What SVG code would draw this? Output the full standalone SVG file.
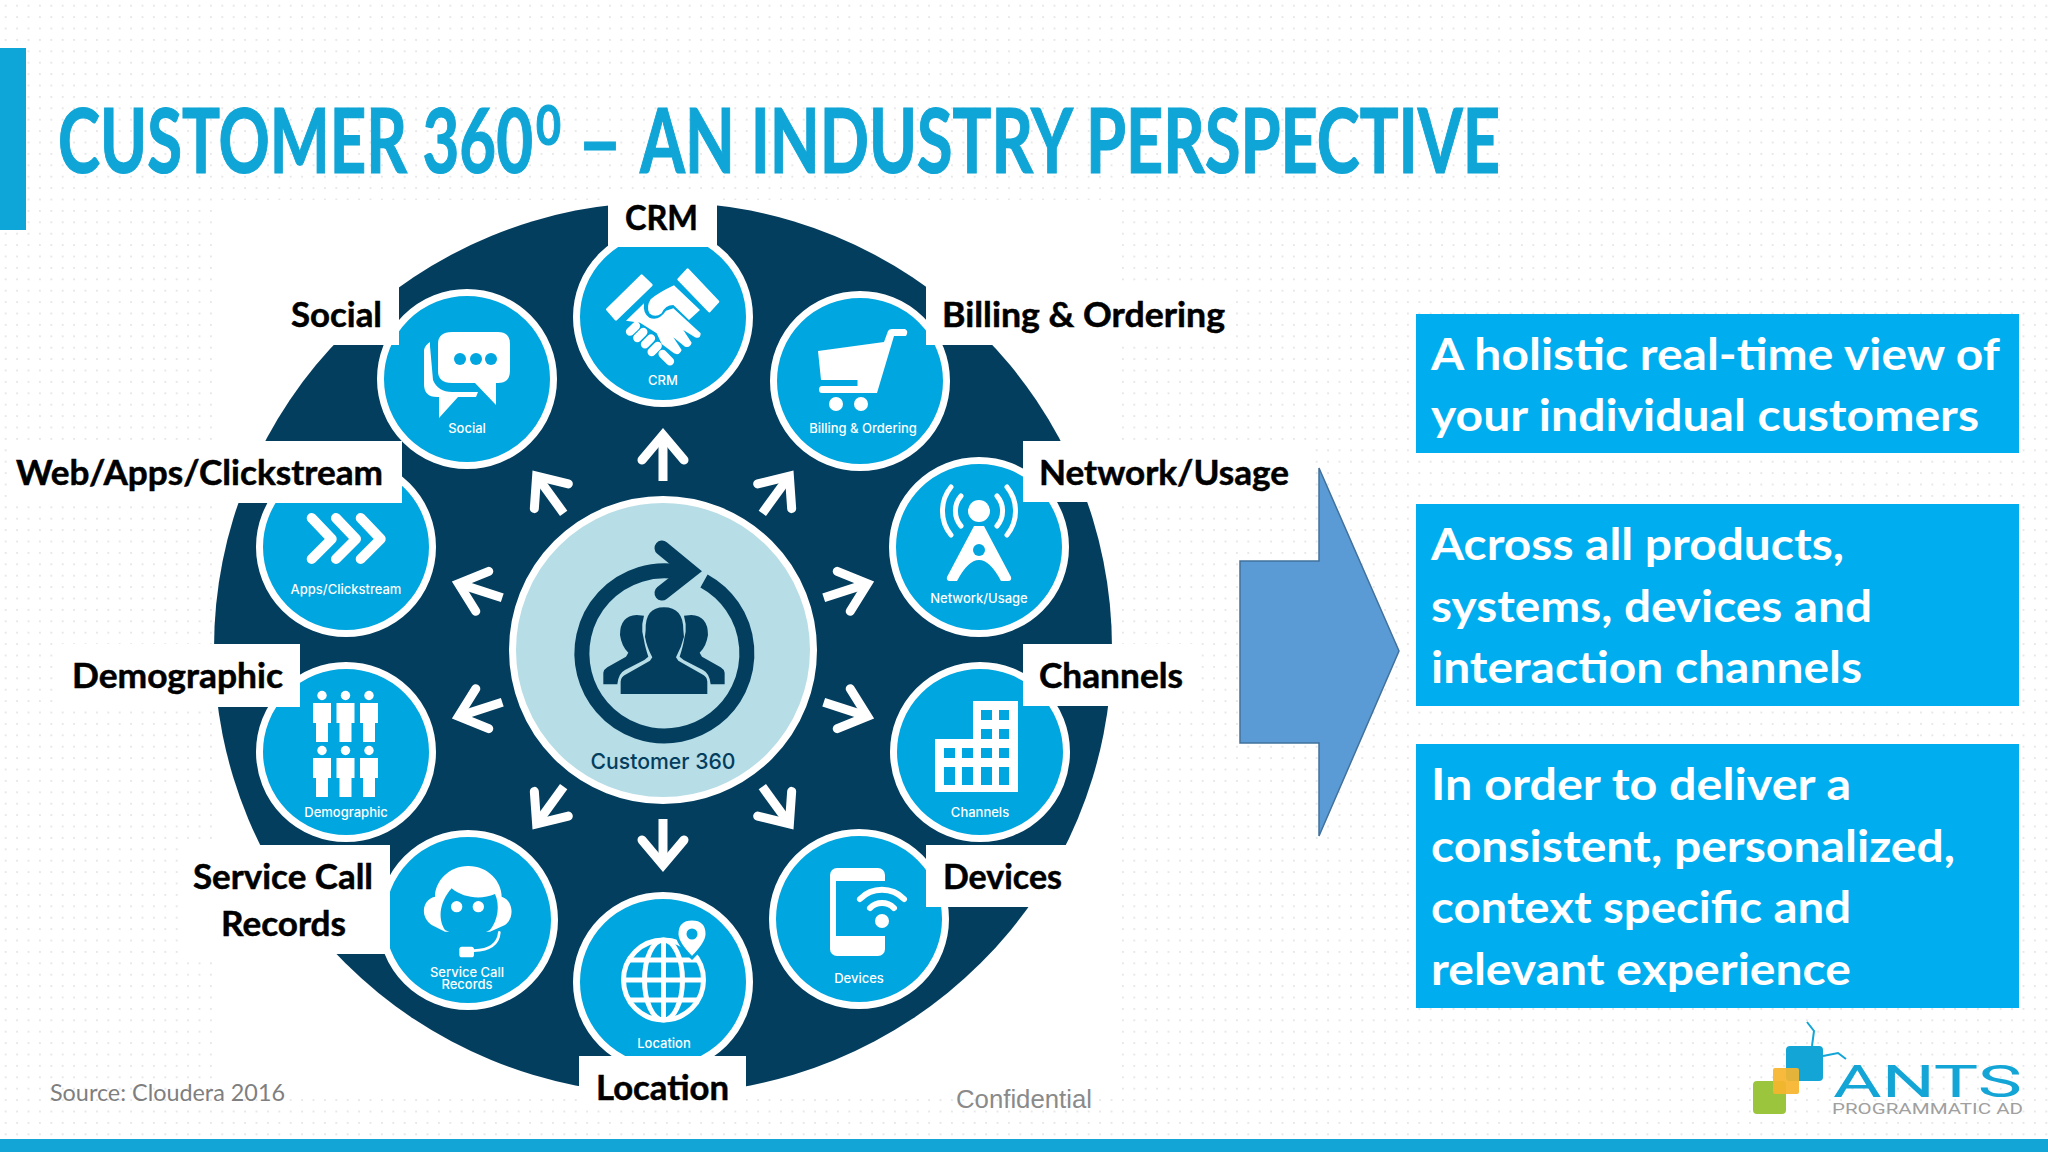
<svg xmlns="http://www.w3.org/2000/svg" width="2048" height="1152" viewBox="0 0 2048 1152">
<style>
.lbl{font-family:"Lato","Liberation Sans",sans-serif;font-weight:700;font-size:34px;fill:#000;stroke:#000;stroke-width:.5px}
.sm{font-family:"Inter","Roboto",sans-serif;font-weight:500;font-size:13px;fill:#fff;text-anchor:middle}
.box{fill:#00aeef}
.boxt{font-family:"Lato","Liberation Sans",sans-serif;font-weight:700;font-size:44px;fill:#fff}
.ring{fill:#00a6df;stroke:#fff;stroke-width:7}
.wb{fill:#fff}
.ic{fill:#fff}
.st{fill:none;stroke:#fff;stroke-linecap:round}
.bl{fill:#00a6df}
.dk{fill:#033e5f}
.title{font-family:"Lato","Liberation Sans",sans-serif;font-weight:700;fill:#0fa5d6;stroke:#0fa5d6;stroke-width:1.2px}
</style>
<defs>
<pattern id="dots" width="11.4" height="11.4" patternUnits="userSpaceOnUse"><circle cx="5.7" cy="5.7" r="1" fill="#e2e2e2"/></pattern>
<g id="arrow"><path d="M663 481V436" fill="none" stroke="#fff" stroke-width="9"/><path d="M642 460L663 435L684 460" fill="none" stroke="#fff" stroke-width="9" stroke-linecap="round" stroke-linejoin="miter"/></g>
<g id="person"><circle cx="0" cy="4.500" r="4.700" class="ic"/><path class="ic" d="M-9 12H9V32H6V51H-6V32H-9Z"/></g>
</defs>
<rect width="2048" height="1152" fill="#fff"/>
<rect width="2048" height="1152" fill="url(#dots)"/>
<rect x="214" y="200" width="899" height="895" fill="#fff"/>
<rect id="leftbar" x="0" y="48" width="26" height="182" fill="#0ea5d8"/>
<rect id="bottombar" x="0" y="1139" width="2048" height="13" fill="#12a5d6"/>
<text class="title" y="173" font-size="89"><tspan x="58" textLength="475" lengthAdjust="spacingAndGlyphs">CUSTOMER 360</tspan><tspan x="536" y="145" font-size="56" textLength="25" lengthAdjust="spacingAndGlyphs">0</tspan><tspan x="578" y="173" textLength="44" lengthAdjust="spacingAndGlyphs">–</tspan><tspan x="640" y="173" textLength="860" lengthAdjust="spacingAndGlyphs">AN INDUSTRY PERSPECTIVE</tspan></text>

<ellipse id="disc" cx="663" cy="648" rx="449" ry="446" class="dk"/>

<g id="connectors">
<use href="#arrow"/>
<use href="#arrow" transform="rotate(36 663 650)"/>
<use href="#arrow" transform="rotate(72 663 650)"/>
<use href="#arrow" transform="rotate(108 663 650)"/>
<use href="#arrow" transform="rotate(144 663 650)"/>
<use href="#arrow" transform="rotate(180 663 650)"/>
<use href="#arrow" transform="rotate(216 663 650)"/>
<use href="#arrow" transform="rotate(252 663 650)"/>
<use href="#arrow" transform="rotate(288 663 650)"/>
<use href="#arrow" transform="rotate(324 663 650)"/>
</g>

<g id="node-center">
<circle cx="663" cy="650" r="150.500" fill="#b7dde6" stroke="#fff" stroke-width="7"/>
<path d="M703 581A82.500 82.500 0 1 1 677 572" fill="none" stroke="#033e5f" stroke-width="15" transform="translate(1 0)"/>
<path d="M662 548L690 571L662 593" fill="none" stroke="#033e5f" stroke-width="15" stroke-linecap="round" stroke-linejoin="miter"/>
<g transform="translate(500 450) scale(.3333)">
<path class="dk" d="M362 732V695Q362 680 380 672L450 632L457 622Q440 590 435 560L437 540Q435 472 492 472Q550 472 550 540L552 560Q545 590 528 622L535 632L605 672Q622 680 622 695V732Z"/>
<path class="dk" d="M310 703V668Q312 658 322 652L378 620L385 608Q365 590 360 555Q360 497 410 495L432 497Q425 520 427 545L432 570Q435 590 445 620L433 630L375 660Q355 670 352 703Z"/>
<path class="dk" d="M674 703V668Q672 658 662 652L606 620L599 608Q619 590 624 555Q624 497 574 495L552 497Q559 520 557 545L552 570Q549 590 539 620L551 630L609 660Q629 670 632 703Z"/>
</g>
<text x="663" y="769" text-anchor="middle" font-family="Inter,Roboto,sans-serif" font-weight="500" font-size="22" fill="#033e5f" textLength="145" lengthAdjust="spacingAndGlyphs">Customer 360</text>
</g>

<g id="node-crm">
<circle class="ring" cx="663" cy="317" r="86.500"/>
<g transform="translate(590 250) scale(.3333)">
<path class="ic" stroke="#fff" stroke-width="8" stroke-linejoin="round" d="M155 77L184 105L78 208L52 178Z"/>
<path class="ic" stroke="#fff" stroke-width="8" stroke-linejoin="round" d="M293 59L384 155L358 183L266 88Z"/>
<path class="ic" d="M182 148Q205 128 252 106L330 180L297 210L250 165Q226 165 215 190Q195 205 178 190Q168 170 182 148Z"/>
<path class="ic" d="M108 212L162 160Q158 190 178 203Q205 215 228 182L250 175L332 250Q332 268 315 262L280 240L305 278Q300 295 285 290L250 262L275 300Q268 318 252 310L215 282L200 250L150 218Z"/>
<path d="M120 245L138 228M142 264L160 246M165 283L183 265M185 306L203 288M218 312L240 334" fill="none" stroke="#fff" stroke-width="25" stroke-linecap="round"/>
</g>
<text class="sm" x="663" y="385">CRM</text>
<rect class="wb" x="608" y="190" width="109" height="57"/>
<text class="lbl" x="625" y="230" textLength="73" lengthAdjust="spacingAndGlyphs">CRM</text>
</g>

<g id="node-billing">
<circle class="ring" cx="860" cy="381" r="86.500"/>
<path class="ic" d="M818 351L884 342L888 331Q889 329 892 329H905Q909 331 906 336H894L877 393H822Q819 393 819 389.500Q819 386 822 386H857.500V380H821Z"/>
<circle class="ic" cx="836" cy="404" r="7"/><circle class="ic" cx="861" cy="404" r="7"/>
<text class="sm" x="863" y="433">Billing &amp; Ordering</text>
<rect class="wb" x="926" y="283" width="310" height="62"/>
<text class="lbl" x="942" y="327" textLength="283" lengthAdjust="spacingAndGlyphs">Billing &amp; Ordering</text>
</g>

<g id="node-network">
<circle class="ring" cx="979" cy="547" r="86.500"/>
<circle class="ic" cx="979" cy="511" r="11"/>
<path class="st" stroke-width="5" d="M961 496A23 23 0 0 0 961 526M997 496A23 23 0 0 1 997 526M951 487A38 38 0 0 0 951 535M1007 487A38 38 0 0 1 1007 535"/>
<path class="ic" d="M974 526H984L1011 577Q1012 581 1008 581H1001Q990 560 979 560Q968 560 957 581H950Q946 581 947 577Z"/>
<circle class="bl" cx="979" cy="550" r="6"/>
<text class="sm" x="979" y="603">Network/Usage</text>
<rect class="wb" x="1023" y="441" width="285" height="61"/>
<text class="lbl" x="1039" y="485" textLength="250" lengthAdjust="spacingAndGlyphs">Network/Usage</text>
</g>

<g id="node-channels">
<circle class="ring" cx="980" cy="752" r="86.500"/>
<path class="ic" d="M973 701H1018V792H935V739H973Z"/>
<path class="bl" d="M981 710h11v10h-11zM999 710h10v10h-10zM981 729h11v10h-11zM999 729h10v10h-10zM981 748h11v10h-11zM999 748h10v10h-10zM981 767h11v18h-11zM999 767h10v18h-10zM944 748h11v10h-11zM962 748h11v10h-11zM944 767h11v18h-11zM962 767h11v18h-11z"/>
<text class="sm" x="980" y="817">Channels</text>
<rect class="wb" x="1023" y="644" width="177" height="62"/>
<text class="lbl" x="1039" y="688" textLength="144" lengthAdjust="spacingAndGlyphs">Channels</text>
</g>

<g id="node-devices">
<circle class="ring" cx="859" cy="919" r="86.500"/>
<rect class="ic" x="830" y="868" width="55" height="88" rx="7"/>
<rect class="bl" x="836" y="881" width="52" height="55"/>
<circle class="ic" cx="857.500" cy="945" r="5"/>
<circle class="ic" cx="882" cy="921" r="7"/>
<path class="st" stroke-width="6" d="M870 908A17 17 0 0 1 894 908M860 899A31 31 0 0 1 904 899"/>
<text class="sm" x="859" y="983">Devices</text>
<rect class="wb" x="926" y="845" width="160" height="62"/>
<text class="lbl" x="943" y="889" textLength="119" lengthAdjust="spacingAndGlyphs">Devices</text>
</g>

<g id="node-location">
<circle class="ring" cx="663" cy="982" r="86.500"/>
<g fill="none" stroke="#fff" stroke-width="5"><circle cx="663.500" cy="980" r="40"/><ellipse cx="663.500" cy="980" rx="19" ry="40"/><path d="M663.500 940V1020M628 960H699M624 980H703M628 1000H699"/></g>
<path d="M692 919Q677 919 677 934Q677 943 692 958Q707 943 707 934Q707 919 692 919Z" fill="#fff" stroke="#00a6df" stroke-width="3"/>
<circle class="bl" cx="692" cy="934" r="5.500"/>
<text class="sm" x="664" y="1048">Location</text>
<rect class="wb" x="579" y="1056" width="167" height="52"/>
<text class="lbl" x="596" y="1100" textLength="133" lengthAdjust="spacingAndGlyphs">Location</text>
</g>

<g id="node-service">
<circle class="ring" cx="468" cy="920" r="86.500"/>
<g transform="translate(400 850) scale(.3333)">
<path class="ic" d="M205 48C265 48 305 95 305 140C340 150 345 205 315 225L270 245H135L95 225C60 200 65 150 105 140C105 95 145 48 205 48Z"/>
<path class="bl" d="M155 115C190 145 245 150 285 132C300 165 295 210 270 240L205 272L135 240C115 210 115 160 155 115Z"/>
<circle class="ic" cx="170" cy="170" r="17"/><circle class="ic" cx="235" cy="170" r="17"/>
<path d="M298 247C295 285 265 300 222 302" fill="none" stroke="#fff" stroke-width="8" stroke-linecap="round"/>
<rect class="ic" x="178" y="290" width="44" height="32" rx="8"/>
</g>
<text class="sm" x="467" y="977">Service Call</text>
<text class="sm" x="467" y="989">Records</text>
<rect class="wb" x="180" y="845" width="210" height="109"/>
<text class="lbl" x="193" y="889" textLength="180" lengthAdjust="spacingAndGlyphs">Service Call</text>
<text class="lbl" x="221" y="936" textLength="125" lengthAdjust="spacingAndGlyphs">Records</text>
</g>

<g id="node-demographic">
<circle class="ring" cx="346" cy="752" r="86.500"/>
<use href="#person" x="322" y="691"/><use href="#person" x="345.500" y="691"/><use href="#person" x="369" y="691"/>
<use href="#person" x="322" y="746"/><use href="#person" x="345.500" y="746"/><use href="#person" x="369" y="746"/>
<text class="sm" x="346" y="817">Demographic</text>
<rect class="wb" x="60" y="644" width="240" height="63"/>
<text class="lbl" x="72" y="688" textLength="211" lengthAdjust="spacingAndGlyphs">Demographic</text>
</g>

<g id="node-social">
<circle class="ring" cx="467" cy="379" r="86.500"/>
<path class="ic" d="M430 346V342C424 346 424 350 424 352V384Q424 397 437 397H439V418L458 397H476L478 392H452Q438 392 433 380Z"/>
<path class="ic" d="M452 332H498Q510 332 510 344V371Q510 383 498 383H496V405L475 383H452Q438 383 438 371V344Q438 332 452 332Z"/>
<circle class="bl" cx="460" cy="359" r="6"/><circle class="bl" cx="476" cy="359" r="6"/><circle class="bl" cx="491" cy="359" r="6"/>
<text class="sm" x="467" y="433">Social</text>
<rect class="wb" x="270" y="283" width="129" height="62"/>
<text class="lbl" x="291" y="327" textLength="91" lengthAdjust="spacingAndGlyphs">Social</text>
</g>

<g id="node-apps">
<circle class="ring" cx="346" cy="547" r="86.500"/>
<path d="M311.700 518L331.700 539L311.700 559M336 518L356 539L336 559M360.700 518L380.700 539L360.700 559" fill="none" stroke="#fff" stroke-width="10" stroke-linecap="round" stroke-linejoin="round"/>
<text class="sm" x="346" y="594">Apps/Clickstream</text>
<rect class="wb" x="10" y="441" width="392" height="62"/>
<text class="lbl" x="16" y="485" textLength="367" lengthAdjust="spacingAndGlyphs">Web/Apps/Clickstream</text>
</g>

<path id="big-arrow" d="M1240 561H1319V468L1399 651L1319 836V743H1240Z" fill="#5b9bd5" stroke="#41719c" stroke-width="1.500"/>

<g id="box1"><rect class="box" x="1416" y="314" width="603" height="139"/>
<text class="boxt" x="1431" y="370" textLength="569" lengthAdjust="spacingAndGlyphs">A holistic real-time view of</text>
<text class="boxt" x="1431" y="431" textLength="548" lengthAdjust="spacingAndGlyphs">your individual customers</text></g>
<g id="box2"><rect class="box" x="1416" y="504" width="603" height="202"/>
<text class="boxt" x="1431" y="560" textLength="413" lengthAdjust="spacingAndGlyphs">Across all products,</text>
<text class="boxt" x="1431" y="622" textLength="441" lengthAdjust="spacingAndGlyphs">systems, devices and</text>
<text class="boxt" x="1431" y="683" textLength="431" lengthAdjust="spacingAndGlyphs">interaction channels</text></g>
<g id="box3"><rect class="box" x="1416" y="744" width="603" height="264"/>
<text class="boxt" x="1431" y="800" textLength="420" lengthAdjust="spacingAndGlyphs">In order to deliver a</text>
<text class="boxt" x="1431" y="862" textLength="524" lengthAdjust="spacingAndGlyphs">consistent, personalized,</text>
<text class="boxt" x="1431" y="923" textLength="420" lengthAdjust="spacingAndGlyphs">context specific and</text>
<text class="boxt" x="1431" y="985" textLength="420" lengthAdjust="spacingAndGlyphs">relevant experience</text></g>

<text id="source" x="50" y="1101" font-family="Lato,'Liberation Sans',sans-serif" font-size="24" fill="#7f7f7f" textLength="235" lengthAdjust="spacingAndGlyphs">Source: Cloudera 2016</text>
<text id="confidential" x="956" y="1108" font-family="'Liberation Sans',sans-serif" font-size="26" fill="#8a8a8a" textLength="136" lengthAdjust="spacingAndGlyphs">Confidential</text>

<g id="logo">
<path d="M1812 1046L1814 1031L1807 1022M1823 1056L1838 1053L1846 1059" fill="none" stroke="#12a5d6" stroke-width="2"/>
<rect x="1786" y="1046" width="37" height="35" rx="4" fill="#12a5d6"/>
<rect x="1753" y="1081" width="33" height="33" rx="4" fill="#9bc53d"/>
<rect x="1773" y="1068" width="26" height="26" rx="2" fill="#f6b42c" opacity=".92"/>
<text x="1833" y="1097" font-family="Roboto,'Liberation Sans',sans-serif" font-size="45" fill="#12a5d6" textLength="189" lengthAdjust="spacingAndGlyphs">ANTS</text>
<text x="1832" y="1114" font-family="Roboto,'Liberation Sans',sans-serif" font-size="14" fill="#a0a0a0" textLength="191" lengthAdjust="spacingAndGlyphs">PROGRAMMATIC AD</text>
</g>
</svg>
